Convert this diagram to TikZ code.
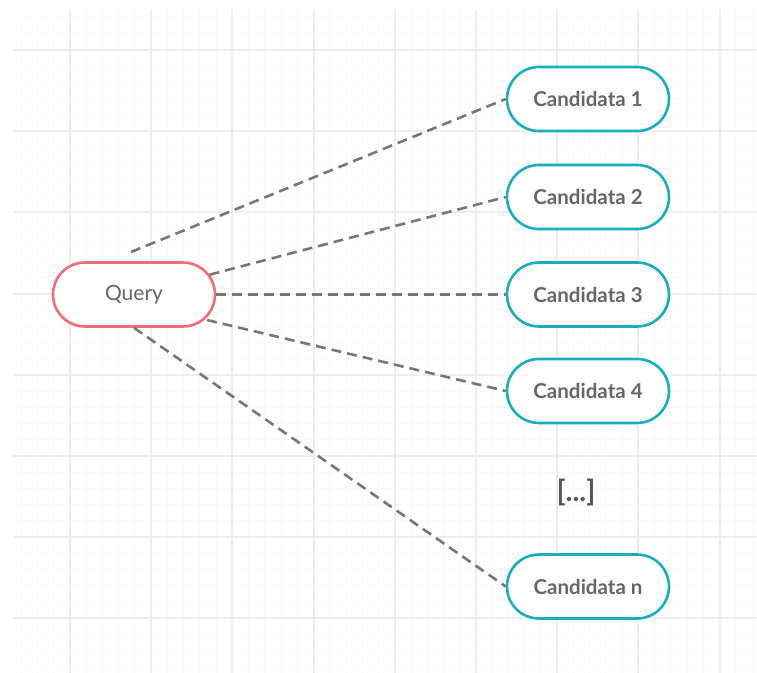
\documentclass[tikz,border=0pt]{standalone}
\usepackage{fontspec}
\setmainfont{Lato}
\usetikzlibrary{shapes.misc}
\definecolor{qred}{HTML}{F26B78}
\definecolor{cteal}{HTML}{17AEBE}
\definecolor{txtgray}{HTML}{666666}
\definecolor{linegray}{HTML}{777777}
\definecolor{gridmajor}{HTML}{EEEEEE}
\definecolor{gridminor}{HTML}{FAFAFA}
\tikzset{
  capsule/.style={rounded rectangle, draw, line width=2.6pt, fill=white,
    minimum width=162pt, minimum height=64pt, inner sep=0pt, text=txtgray},
  qnode/.style={capsule, draw=qred, font=\fontsize{21}{24}\selectfont},
  cnode/.style={capsule, draw=cteal, font=\fontsize{20.5}{24}\selectfont\bfseries},
  link/.style={draw=linegray, line width=2.6pt, dash pattern=on 10pt off 6pt},
  minorline/.style={draw=gridminor, line width=1pt},
  majorline/.style={draw=gridmajor, line width=2pt}
}
\begin{document}
\begin{tikzpicture}[x=1pt,y=-1pt]
\useasboundingbox (0,0) rectangle (757,672);
\fill[white] (0,0) rectangle (757,672);
\begin{scope}
\clip (13,9) rectangle (757,672);
\foreach \i in {0,...,50} {
  \draw[minorline] ({-11.2+\i*16.24},0) -- ({-11.2+\i*16.24},680);
  \draw[minorline] (0,{-31.2+\i*16.24}) -- (760,{-31.2+\i*16.24});
}
\foreach \k in {0,...,8} {
  \draw[majorline] ({70+\k*81.2},0) -- ({70+\k*81.2},680);
}
\foreach \k in {0,...,7} {
  \draw[majorline] (0,{50+\k*81.2}) -- (760,{50+\k*81.2});
}
\end{scope}

\node[qnode] (q) at (134,294.5) {Query};
\node[cnode] (c1) at (588,99) {Candidata 1};
\node[cnode] (c2) at (588,197) {Candidata 2};
\node[cnode] (c3) at (588,294.5) {Candidata 3};
\node[cnode] (c4) at (588,391) {Candidata 4};
\node[cnode] (cn) at (588,586.5) {Candidata n};
\node[font=\fontsize{29}{32}\selectfont\bfseries, text=txtgray!85!black] (dots) at (576,493) {[...]};
\coordinate (s1) at (131,252);
\coordinate (s4) at (207,320);

\draw[link] (s1) -- (c1.west);
\draw[link] (q) -- (c2.west);
\draw[link] (q.east) -- (c3.west);
\draw[link] (s4) -- (c4.west);
\draw[link] (q.south) -- (cn.west);
\end{tikzpicture}
\end{document}
